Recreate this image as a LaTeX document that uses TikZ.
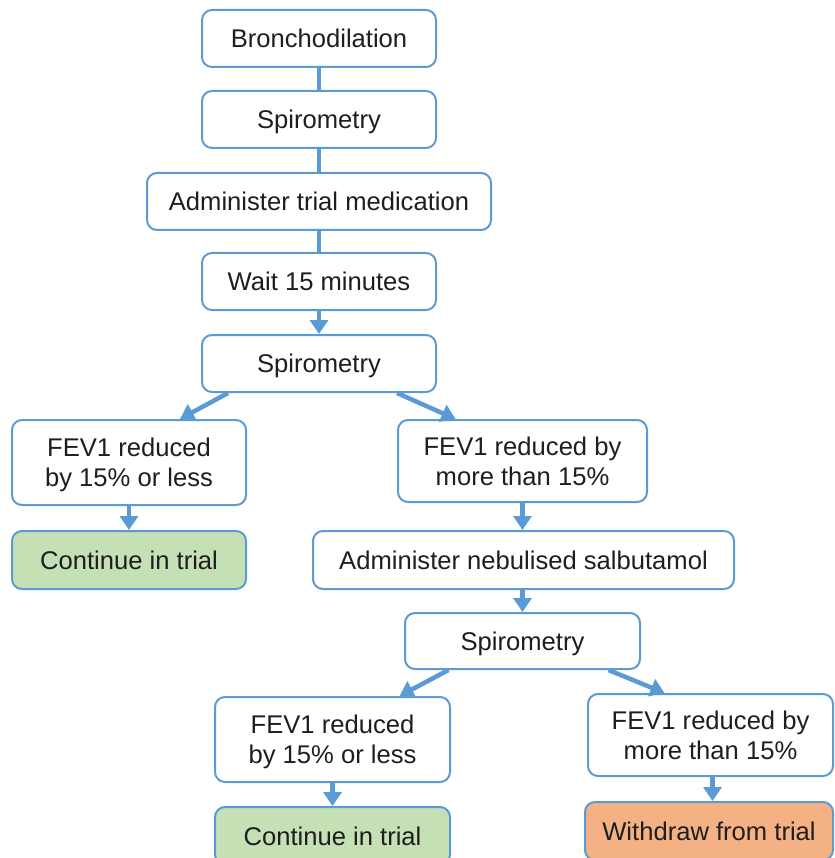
\documentclass[tikz,border=0pt]{standalone}
\usepackage{fontspec}
\setmainfont{Liberation Sans}
\usetikzlibrary{arrows.meta}
\definecolor{edgeblue}{RGB}{91,155,213}
\definecolor{okgreen}{RGB}{197,224,180}
\definecolor{stoporange}{RGB}{244,177,131}
\definecolor{textdark}{RGB}{30,30,30}
\tikzset{
  box/.style={draw=edgeblue, line width=2pt, rounded corners=10pt, fill=white,
    align=center, inner sep=0pt, text=textdark,
    font=\fontsize{25.6}{30}\selectfont},
  oneline/.style={box, text height=21.4pt, text depth=3pt},
  twoline/.style={box, text depth=0pt},
  w234/.style={minimum width=234pt},
  link/.style={draw=edgeblue, line width=4.5pt},
  arrowlink/.style={link, -{Triangle[width=18pt,length=14pt]}},
}
\begin{document}
\begin{tikzpicture}[x=1pt,y=-1pt]
\useasboundingbox (0,0) rectangle (834,858);
\clip (0,0) rectangle (834,858);

% main column
\node[oneline, w234, minimum height=57pt] (b1) at (319,38.5) {Bronchodilation};
\node[oneline, w234, minimum height=57pt] (s1) at (319,119.5) {Spirometry};
\node[oneline, minimum width=344pt, minimum height=57pt] (med) at (319,201.5) {Administer trial medication};
\node[oneline, w234, minimum height=57pt] (wait) at (319,281.5) {Wait 15 minutes};
\node[oneline, w234, minimum height=57pt] (s2) at (319,363.5) {Spirometry};

% first outcome
\node[twoline, w234, minimum height=85pt] (f1) at (129,462.5) {FEV1 reduced\\by 15\% or less};
\node[twoline, minimum width=249pt, minimum height=82pt] (f2) at (522.5,461) {FEV1 reduced by\\more than 15\%};
\node[oneline, w234, minimum height=58pt, fill=okgreen] (c1) at (129,560) {Continue in trial};
\node[oneline, minimum width=421pt, minimum height=58pt] (neb) at (523.5,560) {Administer nebulised salbutamol};
\node[oneline, minimum width=235pt, minimum height=56pt] (s3) at (522.5,641) {Spirometry};

% second outcome
\node[twoline, minimum width=235pt, minimum height=85pt] (f3) at (332.5,739.5) {FEV1 reduced\\by 15\% or less};
\node[twoline, minimum width=245pt, minimum height=82pt] (f4) at (710.5,735) {FEV1 reduced by\\more than 15\%};
\node[oneline, minimum width=235pt, minimum height=58pt, fill=okgreen] (c2) at (332.5,836) {Continue in trial};
\node[oneline, minimum width=248pt, minimum height=58pt, fill=stoporange] (wd) at (709,831) {Withdraw from trial};

% plain links
\draw[link] (b1) -- (s1);
\draw[link] (s1) -- (med);
\draw[link] (med) -- (wait);

% arrows
\draw[arrowlink] (wait) -- (s2);
\draw[arrowlink] ([xshift=-91pt]s2.south) -- ([xshift=51pt]f1.north);
\draw[arrowlink] ([xshift=78pt]s2.south) -- ([xshift=-67pt]f2.north);
\draw[arrowlink] (f1) -- (c1);
\draw[arrowlink] (f2.south) -- (f2.south |- neb.north);
\draw[arrowlink] (neb.south -| s3.north) -- (s3.north);
\draw[arrowlink] ([xshift=-74pt]s3.south) -- ([xshift=67pt]f3.north);
\draw[arrowlink] ([xshift=86pt]s3.south) -- ([xshift=-46pt]f4.north);
\draw[arrowlink] (f3) -- (c2);
\draw[arrowlink] ([xshift=2pt]f4.south) -- ([xshift=2pt]f4.south |- wd.north);
\end{tikzpicture}
\end{document}
